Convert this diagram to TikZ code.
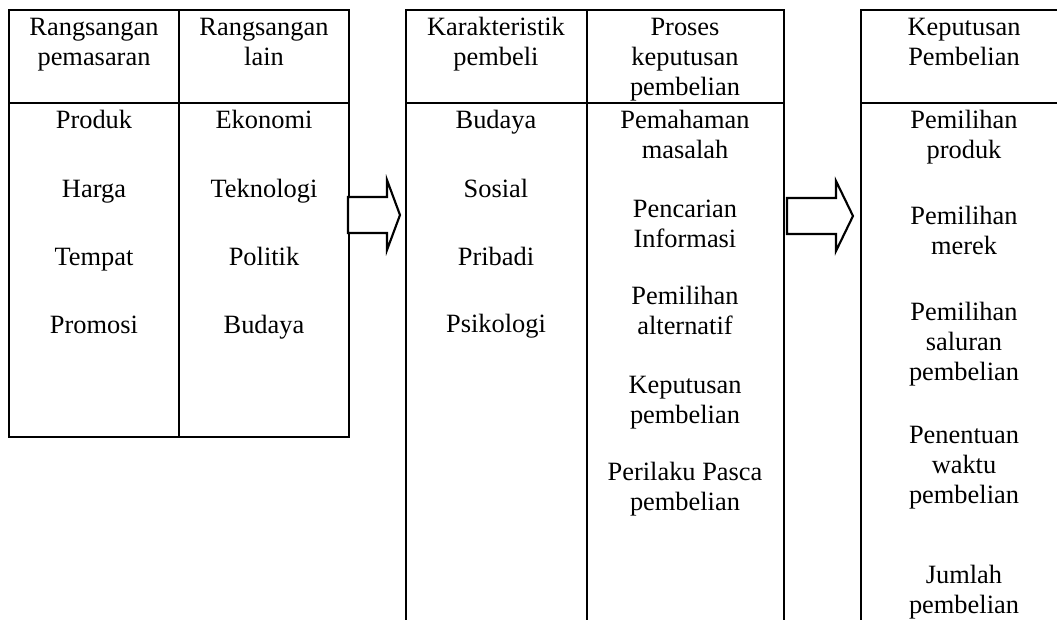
\documentclass[tikz,border=0pt]{standalone}
\usepackage{fontspec}
\setmainfont{Liberation Serif}
\newcommand\grp[4]{%
  \foreach \t [count=\i from 0] in {#4} {\node[txt] (#1-\i) at (#2, #3+30*\i) {\t};}}
\begin{document}
\begin{tikzpicture}[x=0.75pt,y=-0.75pt,
  tbl/.style={line width=1pt},
  blk/.style={draw, line width=1.6pt, line join=miter, fill=white},
  txt/.style={anchor=base, inner sep=0pt, font=\fontsize{19.8pt}{22.5pt}\selectfont}]
\useasboundingbox (0,0) rectangle (1057,619);
\clip (0,0) rectangle (1057,619);
% left table
\draw[tbl] (9,10) rectangle (349,437);
\draw[tbl] (9,103) -- (349,103);
\draw[tbl] (179,10) -- (179,437);
% middle table
\draw[tbl] (406,640) -- (406,10) -- (784,10) -- (784,640);
\draw[tbl] (406,103) -- (784,103);
\draw[tbl] (587,10) -- (587,640);
% right table
\draw[tbl] (1080,10) -- (861,10) -- (861,640);
\draw[tbl] (861,103) -- (1080,103);
% block arrows
\draw[blk] (348,197) -- (387,197) -- (387,180) -- (400,215) -- (387,250) -- (387,233) -- (348,233) -- cycle;
\draw[blk] (787,198) -- (836,198) -- (836,181) -- (853,216) -- (836,251) -- (836,234) -- (787,234) -- cycle;
% left table text
\grp{h1}{94}{35}{Rangsangan,pemasaran}
\grp{h2}{264}{35}{Rangsangan,lain}
\grp{p1}{94}{128}{Produk}
\grp{p2}{94}{197}{Harga}
\grp{p3}{94}{265}{Tempat}
\grp{p4}{94}{333}{Promosi}
\grp{q1}{264}{128}{Ekonomi}
\grp{q2}{264}{197}{Teknologi}
\grp{q3}{264}{265}{Politik}
\grp{q4}{264}{333}{Budaya}
% middle table text
\grp{h3}{496}{35}{Karakteristik,pembeli}
\grp{h4}{685}{35}{Proses,keputusan,pembelian}
\grp{r1}{496}{128}{Budaya}
\grp{r2}{496}{197}{Sosial}
\grp{r3}{496}{265}{Pribadi}
\grp{r4}{496}{332}{Psikologi}
\grp{s1}{685}{128}{Pemahaman,masalah}
\grp{s2}{685}{217}{Pencarian,Informasi}
\grp{s3}{685}{304}{Pemilihan,alternatif}
\grp{s4}{685}{393}{Keputusan,pembelian}
\grp{s5}{685}{480}{Perilaku Pasca,pembelian}
% right table text
\grp{h5}{964}{35}{Keputusan,Pembelian}
\grp{t1}{964}{128}{Pemilihan,produk}
\grp{t2}{964}{224}{Pemilihan,merek}
\grp{t3}{964}{320}{Pemilihan,saluran,pembelian}
\grp{t4}{964}{443}{Penentuan,waktu,pembelian}
\grp{t5}{964}{583}{Jumlah,pembelian}
\end{tikzpicture}
\end{document}
